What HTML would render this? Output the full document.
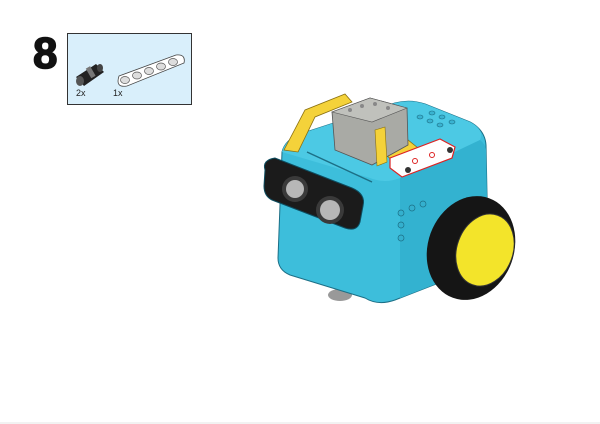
<!DOCTYPE html>
<html><head><meta charset="utf-8"><style>
html,body{margin:0;padding:0;background:#fff;}
svg{display:block;}
text{font-family:"Liberation Sans",sans-serif;}
</style></head><body>
<svg width="600" height="424" viewBox="0 0 600 424">
<rect x="0" y="0" width="600" height="424" fill="#fff"/>
<rect x="0" y="422" width="600" height="2" fill="#f2f2f2"/>
<text x="33" y="68" font-size="44" font-weight="bold" fill="#111" stroke="#111" stroke-width="1.5">8</text>
<g>
<rect x="67.5" y="33.5" width="124" height="71" fill="#d9effb" stroke="#333" stroke-width="1"/>
<g>
<polygon points="76,77 96,64 104,72 84,86" fill="#222"/>
<ellipse cx="80" cy="81" rx="4" ry="5" fill="#555"/>
<rect x="88" y="67" width="5" height="11" fill="#777" transform="rotate(-30 90 72)"/>
<ellipse cx="100" cy="68" rx="3" ry="4" fill="#444"/>
</g>
<g>
<path d="M119,76 L176,55 Q186,54 184,63 L127,86 Q115,88 119,76 Z" fill="#fff" stroke="#444" stroke-width="0.8"/>
<ellipse cx="125" cy="80" rx="4.5" ry="3.5" fill="#ddd" stroke="#555" stroke-width="0.7"/>
<ellipse cx="137" cy="75.5" rx="4.5" ry="3.5" fill="#ddd" stroke="#555" stroke-width="0.7"/>
<ellipse cx="149" cy="71" rx="4.5" ry="3.5" fill="#ddd" stroke="#555" stroke-width="0.7"/>
<ellipse cx="161" cy="66.5" rx="4.5" ry="3.5" fill="#ddd" stroke="#555" stroke-width="0.7"/>
<ellipse cx="173" cy="62" rx="4.5" ry="3.5" fill="#ddd" stroke="#555" stroke-width="0.7"/>
</g>
<text x="76" y="96" font-size="9" fill="#222">2x</text>
<text x="113" y="96" font-size="9" fill="#222">1x</text>
</g>
<g>
<ellipse cx="340" cy="295" rx="12" ry="6" fill="#999"/>
<path d="M282,152 Q285,140 300,134 L395,103 Q410,99 425,104 L470,122 Q485,130 486,145 L488,245 Q488,262 472,270 L395,300 Q378,306 365,298 L290,275 Q278,270 278,258 Z" fill="#3dbedb" stroke="#1c6f86" stroke-width="1"/>
<path d="M282,152 Q285,140 300,134 L395,103 Q410,99 425,104 L470,122 Q485,130 480,140 L400,178 Q385,184 370,178 Z" fill="#4cc9e4"/>
<path d="M400,178 L480,140 Q486,145 486,150 L488,245 Q488,262 472,270 L400,298 Z" fill="#33b2d0"/>
<line x1="307" y1="152" x2="372" y2="182" stroke="#1c6f86" stroke-width="1.5"/>
<g fill="#3ab3d1" stroke="#1c6f86" stroke-width="0.6">
<ellipse cx="420" cy="117" rx="3" ry="2"/><ellipse cx="430" cy="121" rx="3" ry="2"/><ellipse cx="440" cy="125" rx="3" ry="2"/>
<ellipse cx="432" cy="113" rx="3" ry="2"/><ellipse cx="442" cy="117" rx="3" ry="2"/><ellipse cx="452" cy="122" rx="3" ry="2"/>
</g>
<g>
<path d="M284,150 L305,110 L345,94 L352,102 L315,117 L298,152 Z" fill="#f4d23a" stroke="#8a7010" stroke-width="0.8"/>
<path d="M380,150 L408,140 L418,148 L392,160 Z" fill="#f4d23a" stroke="#8a7010" stroke-width="0.8"/>
</g>
<g>
<polygon points="332,112 370,98 407,108 408,145 372,165 335,150" fill="#a9aaa5" stroke="#555" stroke-width="0.8"/>
<polygon points="332,112 370,98 407,108 372,122" fill="#c0c1bc" stroke="#555" stroke-width="0.6"/>
<circle cx="350" cy="110" r="2" fill="#888"/><circle cx="362" cy="106" r="2" fill="#888"/><circle cx="375" cy="104" r="2" fill="#888"/><circle cx="388" cy="108" r="2" fill="#888"/>
<polygon points="375,130 385,127 387,162 377,166" fill="#f4d23a" stroke="#8a7010" stroke-width="0.6"/>
</g>
<g>
<polygon points="390,158 440,139 455,147 452,158 402,177 390,168" fill="#fff" stroke="#d22" stroke-width="1.2"/>
<circle cx="415" cy="161" r="2.5" fill="none" stroke="#d22"/><circle cx="432" cy="155" r="2.5" fill="none" stroke="#d22"/>
<circle cx="408" cy="170" r="3" fill="#333"/><circle cx="450" cy="150" r="3" fill="#333"/>
</g>
<g>
<path d="M265,170 Q262,160 275,158 L352,188 Q366,194 363,206 L360,222 Q357,232 345,228 L272,200 Q264,196 264,186 Z" fill="#1b1b1b" stroke="#0d4d60" stroke-width="1"/>
<circle cx="295" cy="189" r="13" fill="#3a3a3a"/><circle cx="295" cy="189" r="9" fill="#b7b7b7"/>
<circle cx="330" cy="210" r="14" fill="#3a3a3a"/><circle cx="330" cy="210" r="10" fill="#b7b7b7"/>
</g>
<g fill="#34b0ce" stroke="#1c6f86" stroke-width="0.7">
<circle cx="401" cy="213" r="3"/><circle cx="412" cy="208" r="3"/><circle cx="423" cy="204" r="3"/>
<circle cx="401" cy="225" r="3"/><circle cx="401" cy="238" r="3"/>
</g>
<g>
<ellipse cx="471" cy="248" rx="43" ry="53" fill="#151515" transform="rotate(20 471 248)"/>
<ellipse cx="485" cy="250" rx="28" ry="37" fill="#f3e42a" stroke="#333" stroke-width="1" transform="rotate(20 485 250)"/>
</g>
</g>
</svg>
</body></html>
